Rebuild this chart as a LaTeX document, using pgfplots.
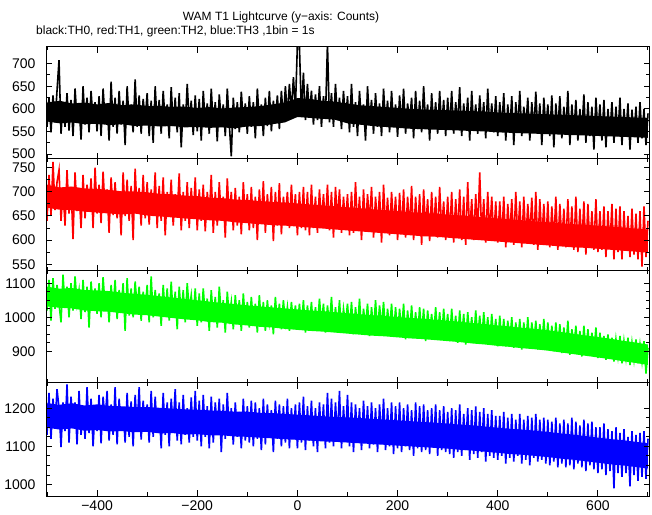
\documentclass[border=0pt]{standalone}
\usepackage{pgfplots}
\usepackage{pgfplotstable}
\pgfplotsset{compat=1.18}
\usepackage{fontspec}
\setmainfont{Liberation Sans}
\pgfplotstableread{
x a b c d
-500 560 640 1020 1130
-496 625 735 1110 1240
-492 548 650 990 1120
-488 630 762 1115 1225
-484 570 662 1025 1155
-480 640 720 1095 1250
-476 708 745 1040 1200
-472 545 640 985 1098
-468 615 705 1125 1215
-464 560 630 1030 1140
-460 635 745 1090 1262
-456 552 655 1000 1110
-452 620 710 1100 1230
-448 540 602 1020 1150
-444 645 740 1120 1215
-440 575 660 1040 1105
-436 610 700 1080 1245
-432 532 625 995 1130
-428 650 735 1110 1205
-424 565 645 1015 1120
-420 625 715 1090 1255
-416 548 660 970 1135
-412 640 728 1105 1225
-408 570 625 1030 1100
-404 615 750 1085 1200
-400 550 655 1010 1140
-396 628 715 1100 1235
-392 540 635 1000 1108
-388 645 742 1118 1230
-384 575 660 1030 1165
-380 612 705 1075 1245
-376 530 615 985 1115
-372 660 730 1095 1210
-368 560 652 1020 1130
-364 625 720 1110 1255
-360 545 645 995 1105
-356 640 700 1080 1225
-352 565 610 1025 1145
-348 618 740 1100 1200
-344 520 650 960 1110
-340 650 725 1115 1240
-336 570 640 1005 1125
-332 610 712 1085 1218
-328 548 600 1000 1100
-324 665 748 1105 1235
-320 560 655 1030 1150
-316 630 708 1090 1255
-312 545 630 990 1118
-308 622 735 1075 1220
-304 575 645 1020 1140
-300 635 720 1095 1210
-296 540 632 985 1110
-292 618 705 1120 1245
-288 525 650 1000 1125
-284 650 740 1080 1230
-280 565 625 1015 1140
-276 620 712 1070 1200
-272 545 640 975 1095
-268 640 730 1095 1240
-264 570 610 1010 1130
-260 610 700 1085 1215
-256 535 648 990 1100
-252 648 725 1105 1225
-248 562 630 1000 1150
-244 625 695 1075 1250
-240 548 655 965 1115
-236 635 738 1090 1215
-232 515 620 1005 1105
-228 610 700 1080 1235
-224 560 640 985 1130
-220 655 720 1100 1200
-216 568 625 1020 1110
-212 618 708 1065 1228
-208 542 645 995 1125
-204 630 730 1085 1245
-200 550 620 975 1115
-196 622 705 1070 1220
-192 530 640 985 1100
-188 640 715 1085 1235
-184 565 618 1000 1125
-180 612 700 1055 1205
-176 545 650 960 1095
-172 645 735 1080 1230
-168 560 615 995 1110
-164 615 700 1060 1215
-160 528 630 970 1140
-156 632 720 1090 1225
-152 572 640 1005 1085
-148 610 690 1050 1210
-144 540 605 955 1120
-140 645 728 1075 1240
-136 565 645 1000 1130
-132 495 700 1045 1200
-128 625 620 965 1105
-124 555 708 1065 1215
-120 615 630 990 1125
-116 548 690 1050 1190
-112 638 612 960 1095
-108 570 720 1070 1225
-104 612 640 985 1115
-100 545 695 1045 1205
-96 628 620 970 1110
-92 560 710 1060 1220
-88 615 625 980 1100
-84 535 690 1040 1215
-80 645 600 955 1120
-76 570 705 1065 1200
-72 610 635 975 1090
-68 540 722 1045 1225
-64 625 615 960 1105
-60 562 695 1050 1210
-56 640 640 985 1130
-52 550 710 1035 1195
-48 618 598 950 1085
-44 572 700 1060 1220
-40 630 630 975 1120
-36 555 718 1040 1210
-32 640 612 965 1100
-28 575 690 1050 1205
-24 650 645 985 1110
-20 585 700 1030 1225
-16 655 625 960 1095
-12 595 715 1045 1200
-8 670 640 980 1120
-4 600 695 1035 1210
0 745 610 965 1095
4 740 700 1040 1215
8 590 625 970 1110
12 680 710 1050 1230
16 575 620 955 1090
20 655 700 1035 1205
24 585 610 975 1115
28 640 715 1045 1220
32 565 625 960 1100
36 632 690 1030 1200
40 575 615 970 1085
44 650 705 1055 1215
48 560 635 980 1120
52 628 695 1040 1210
56 580 630 955 1095
60 745 715 1035 1240
64 570 620 975 1110
68 635 700 1060 1225
72 560 605 965 1100
76 655 710 1030 1215
80 575 640 970 1120
84 625 705 1050 1245
88 555 615 955 1095
92 640 690 1025 1205
96 570 630 980 1115
100 628 695 1040 1235
104 548 610 960 1100
108 655 700 1045 1215
112 560 615 950 1085
116 615 720 1030 1210
120 540 625 965 1120
124 640 690 1055 1200
128 565 600 955 1090
132 610 705 1025 1220
136 530 620 970 1110
140 650 695 1040 1205
144 570 635 945 1095
148 620 710 1030 1215
152 545 605 960 1105
156 635 690 1050 1200
160 560 625 955 1085
164 612 700 1035 1210
168 540 595 970 1115
172 645 715 1045 1225
176 565 620 950 1090
180 618 688 1025 1200
184 548 610 960 1100
188 640 700 1040 1215
192 560 625 945 1080
196 610 690 1030 1205
200 538 600 945 1095
204 630 698 1025 1215
208 560 615 955 1085
212 645 705 1040 1200
216 545 605 935 1100
220 612 690 1020 1210
224 570 620 950 1090
228 625 712 1035 1195
232 535 600 945 1075
236 640 690 1015 1215
240 555 615 940 1095
244 618 695 1030 1205
248 548 590 950 1085
252 650 705 1025 1210
256 565 620 930 1090
260 610 685 1020 1195
264 530 598 955 1080
268 635 700 1010 1200
272 560 615 940 1100
276 615 690 1030 1210
280 545 605 945 1075
284 640 710 1015 1195
288 558 620 935 1090
292 620 680 1025 1205
296 540 600 950 1085
300 625 690 1010 1190
304 555 605 930 1080
308 640 700 1025 1200
312 545 595 945 1070
316 615 685 1005 1195
320 565 610 925 1085
324 648 705 1020 1210
328 540 600 940 1075
332 612 690 1010 1185
336 560 590 920 1090
340 625 720 1015 1200
344 530 612 945 1065
348 640 685 1000 1195
352 555 600 930 1080
356 610 695 1020 1205
360 545 615 940 1070
364 630 740 1005 1190
368 560 605 925 1085
372 615 685 1015 1200
376 535 595 940 1060
380 645 700 1000 1185
384 555 610 920 1075
388 612 690 1010 1195
392 548 600 935 1070
396 628 680 995 1180
400 540 595 915 1065
404 615 680 1005 1180
408 555 600 925 1075
412 635 690 995 1190
416 530 585 915 1055
420 610 675 990 1175
424 550 605 930 1070
428 628 685 1000 1185
432 520 590 910 1060
436 615 700 985 1170
440 555 600 925 1075
444 640 680 995 1185
448 540 585 905 1055
452 605 690 985 1170
456 560 595 920 1065
460 625 675 1000 1180
464 530 605 910 1050
468 615 688 985 1175
472 550 590 920 1070
476 638 700 990 1185
480 545 580 905 1060
484 612 685 980 1170
488 520 600 915 1065
492 625 675 995 1175
496 555 590 910 1055
500 610 680 985 1170
504 540 585 905 1050
508 630 670 975 1165
512 515 595 900 1060
516 612 690 985 1175
520 550 580 910 1045
524 628 675 980 1160
528 535 595 895 1055
532 605 665 970 1170
536 550 585 905 1045
540 640 685 990 1160
544 520 590 890 1050
548 610 670 965 1175
552 545 580 910 1040
556 620 690 975 1165
560 530 575 895 1055
564 600 665 960 1155
568 550 590 885 1045
572 632 680 975 1170
576 525 570 900 1035
580 615 675 965 1160
584 540 585 890 1050
588 605 660 955 1165
592 510 580 895 1040
596 625 685 970 1150
600 545 575 880 1030
604 610 660 955 1150
608 530 580 885 1040
612 620 670 945 1160
616 515 565 875 1025
620 600 660 950 1145
624 545 585 880 1035
628 615 675 940 1140
632 525 560 870 990
636 605 665 935 1150
640 540 575 885 1030
644 625 670 945 1135
648 520 560 865 1020
652 600 660 930 1145
656 545 580 880 1030
660 612 650 940 1125
664 510 565 860 995
668 598 665 925 1140
672 540 570 875 1025
676 605 655 935 1130
680 525 560 865 1010
684 615 660 920 1135
688 535 545 870 1020
692 600 670 930 1140
696 520 565 835 1015
700 590 640 910 1120
}\lc
\pgfplotstableread{
x a b c d
-500 614 715 1090 1213
-475 618 709 1084 1209
-450 612 711 1086 1213
-425 614 707 1080 1207
-400 610 706 1079 1210
-375 613 704 1077 1206
-350 608 701 1072 1205
-325 610 701 1069 1203
-300 606 699 1066 1203
-275 607 696 1062 1201
-250 604 695 1058 1199
-225 605 692 1054 1197
-200 602 691 1050 1196
-175 604 688 1046 1194
-150 601 687 1042 1193
-125 603 684 1039 1191
-100 604 683 1035 1191
-75 606 681 1032 1188
-50 610 679 1029 1187
-25 614 678 1026 1185
0 624 676 1023 1183
25 622 674 1020 1181
50 618 672 1018 1179
75 616 670 1015 1177
100 612 668 1012 1176
125 608 666 1009 1174
150 606 664 1006 1172
175 604 662 1004 1170
200 602 660 1001 1168
225 600 658 998 1166
250 599 656 996 1164
275 598 655 993 1162
300 597 653 990 1160
325 596 651 987 1157
350 595 649 983 1155
375 594 647 980 1152
400 592 645 976 1149
425 591 643 973 1146
450 590 641 969 1144
475 589 639 966 1141
500 588 637 962 1138
525 587 635 957 1134
550 586 633 952 1131
575 585 632 947 1127
600 584 630 942 1123
625 583 628 937 1119
650 582 626 931 1116
675 581 624 926 1112
700 580 622 920 1108
700 536 574 860 1042
675 537 576 866 1046
650 538 578 871 1050
625 539 580 877 1053
600 540 582 882 1057
575 541 584 887 1061
550 542 585 892 1065
525 543 587 897 1068
500 544 589 902 1072
475 545 591 906 1075
450 546 593 909 1078
425 547 595 913 1080
400 548 597 916 1083
375 550 599 920 1086
350 551 601 923 1089
325 552 603 927 1091
300 553 605 930 1094
275 554 607 933 1096
250 555 608 936 1098
225 556 610 938 1100
200 558 612 941 1102
175 560 614 944 1104
150 562 616 946 1106
125 565 618 949 1108
100 568 620 952 1110
75 576 622 955 1112
50 578 624 958 1113
25 580 626 960 1115
0 582 628 963 1117
-25 570 630 966 1119
-50 566 631 970 1121
-75 562 633 972 1123
-100 561 635 976 1125
-125 557 637 979 1126
-150 559 640 984 1129
-175 558 641 986 1129
-200 560 643 991 1132
-225 559 645 994 1131
-250 562 647 998 1135
-275 561 649 1002 1134
-300 563 651 1006 1138
-325 562 655 1008 1137
-350 566 653 1012 1140
-375 564 655 1016 1139
-400 567 657 1018 1143
-425 566 659 1020 1141
-450 570 662 1026 1147
-475 568 663 1028 1144
-500 572 667 1032 1149
}\band
\pgfplotsset{panel/.style={
  scale only axis, width=604bp, height=112bp, anchor=south west,
  xmin=-502, xmax=704,
  xtick={-400,-200,0,200,400,600},
  minor xtick={-500,-300,-100,100,300,500,700},
  tick align=inside,
  major tick length=6bp, minor tick length=3.5bp,
  axis line style={line width=1bp},
  tick style={black, line width=1bp},
  tick label style={font=\fontsize{14bp}{16bp}\selectfont},
  yticklabel style={xshift=-7bp},
  /pgf/number format/assume math mode=true,
  /pgf/number format/1000 sep={},
  every axis plot/.append style={line width=1.6bp},
  axis on top,
}}
\begin{document}
\begin{tikzpicture}
\path[use as bounding box] (0,0) rectangle (652bp,515bp);
\node[anchor=base, inner sep=0] at (281bp,494bp) {\fontsize{12bp}{14bp}\selectfont WAM T1 Lightcurve (y−axis: Counts)};
\node[anchor=base west, inner sep=0] at (36bp,480bp) {\fontsize{12bp}{14bp}\selectfont black:TH0, red:TH1, green:TH2, blue:TH3 ,1bin = 1s};
\begin{axis}[panel, at={(46bp,356bp)}, ymin=489, ymax=737,
  ytick={500,550,600,650,700}, minor y tick num=1, xticklabels={}]
\addplot[fill=black, draw=none, no marks, line width=0pt] table[x=x, y=a] {\band} -- cycle;
\addplot[black, no marks] table[x=x, y=a] {\lc};
\end{axis}
\begin{axis}[panel, at={(46bp,244bp)}, ymin=536, ymax=768,
  ytick={550,600,650,700,750}, minor y tick num=1, xticklabels={}]
\addplot[fill={rgb,255:red,255;green,0;blue,0}, draw=none, no marks, line width=0pt] table[x=x, y=b] {\band} -- cycle;
\addplot[color={rgb,255:red,255;green,0;blue,0}, no marks] table[x=x, y=b] {\lc};
\end{axis}
\begin{axis}[panel, at={(46bp,132bp)}, ymin=807, ymax=1136,
  ytick={900,1000,1100}, minor y tick num=3, xticklabels={}]
\addplot[fill={rgb,255:red,0;green,255;blue,0}, draw=none, no marks, line width=0pt] table[x=x, y=c] {\band} -- cycle;
\addplot[color={rgb,255:red,0;green,255;blue,0}, no marks] table[x=x, y=c] {\lc};
\end{axis}
\begin{axis}[panel, at={(46bp,19bp)}, height=113bp, ymin=970, ymax=1266,
  ytick={1000,1100,1200}, minor y tick num=3,
  xticklabels={−400,−200,0,200,400,600}, xticklabel style={yshift=-1bp}]
\addplot[fill={rgb,255:red,0;green,0;blue,255}, draw=none, no marks, line width=0pt] table[x=x, y=d] {\band} -- cycle;
\addplot[color={rgb,255:red,0;green,0;blue,255}, no marks] table[x=x, y=d] {\lc};
\end{axis}
\end{tikzpicture}
\end{document}
